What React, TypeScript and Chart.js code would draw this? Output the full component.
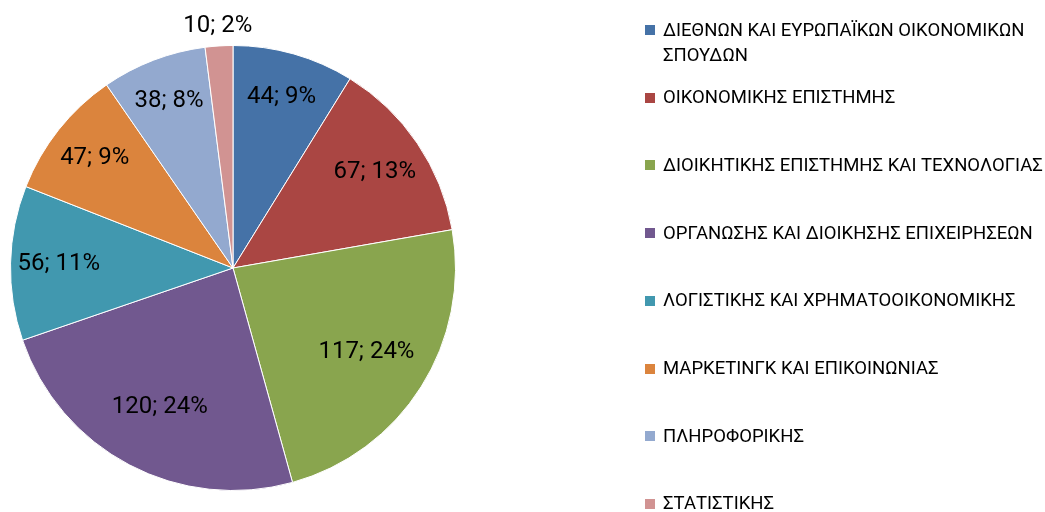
import React, { useEffect, useRef } from "react";
import { Chart, registerables } from "chart.js";

Chart.register(...registerables);

const categories: string[] = [
  "ΔΙΕΘΝΩΝ ΚΑΙ ΕΥΡΩΠΑΪΚΩΝ ΟΙΚΟΝΟΜΙΚΩΝ ΣΠΟΥΔΩΝ",
  "ΟΙΚΟΝΟΜΙΚΗΣ ΕΠΙΣΤΗΜΗΣ",
  "ΔΙΟΙΚΗΤΙΚΗΣ ΕΠΙΣΤΗΜΗΣ ΚΑΙ ΤΕΧΝΟΛΟΓΙΑΣ",
  "ΟΡΓΑΝΩΣΗΣ ΚΑΙ ΔΙΟΙΚΗΣΗΣ ΕΠΙΧΕΙΡΗΣΕΩΝ",
  "ΛΟΓΙΣΤΙΚΗΣ ΚΑΙ ΧΡΗΜΑΤΟΟΙΚΟΝΟΜΙΚΗΣ",
  "ΜΑΡΚΕΤΙΝΓΚ ΚΑΙ ΕΠΙΚΟΙΝΩΝΙΑΣ",
  "ΠΛΗΡΟΦΟΡΙΚΗΣ",
  "ΣΤΑΤΙΣΤΙΚΗΣ",
];

const values: number[] = [44, 67, 117, 120, 56, 47, 38, 10];

const colors: string[] = [
  "#4572A7",
  "#AA4643",
  "#89A54E",
  "#71588F",
  "#4198AF",
  "#DB843D",
  "#93A9CF",
  "#D19392",
];

// Largest-remainder rounding of percentages (as the spreadsheet does)
function roundedPercents(vals: number[]): number[] {
  const total = vals.reduce((a, b) => a + b, 0);
  const raw = vals.map((v) => (v / total) * 100);
  const floors = raw.map((r) => Math.floor(r));
  let remaining = 100 - floors.reduce((a, b) => a + b, 0);
  const order = raw
    .map((r, i) => ({ i, rem: r - Math.floor(r) }))
    .sort((a, b) => b.rem - a.rem);
  const out = floors.slice();
  for (let k = 0; k < order.length && remaining > 0; k++, remaining--) {
    out[order[k].i] += 1;
  }
  return out;
}

const LABEL_FONT = "Roboto, 'Noto Sans', 'Liberation Sans', sans-serif";
const LEGEND_FONT = "Roboto, 'Noto Sans', 'Liberation Sans', sans-serif";

const sliceLabels = {
  id: "sliceLabels",
  afterDatasetsDraw(chart: any) {
    const ctx = chart.ctx;
    const meta = chart.getDatasetMeta(0);
    const data = chart.data.datasets[0].data as number[];
    const pct = roundedPercents(data);
    const total = data.reduce((a, b) => a + b, 0);
    ctx.save();
    ctx.fillStyle = "#000";
    ctx.font = `24px ${LABEL_FONT}`;
    ctx.textAlign = "center";
    ctx.textBaseline = "middle";
    meta.data.forEach((arc: any, i: number) => {
      const { x, y, startAngle, endAngle, outerRadius } = arc.getProps(
        ["x", "y", "startAngle", "endAngle", "outerRadius"],
        true
      );
      const mid = (startAngle + endAngle) / 2;
      const frac = data[i] / total;
      const r =
        frac < 0.03 ? outerRadius * 1.09 : outerRadius * (0.85 - 0.6 * frac);
      const lx = x + Math.cos(mid) * r;
      const ly = y + Math.sin(mid) * r;
      ctx.fillText(`${data[i]}; ${pct[i]}%`, lx, ly);
    });
    ctx.restore();
  },
};

export default function App() {
  const ref = useRef<HTMLCanvasElement | null>(null);

  useEffect(() => {
    if (!ref.current) return;
    const chart = new Chart(ref.current, {
      type: "pie",
      data: {
        labels: categories,
        datasets: [
          {
            data: values,
            backgroundColor: colors,
            borderColor: "#ffffff",
            borderWidth: 1,
          },
        ],
      },
      options: {
        responsive: false,
        animation: false,
        layout: { padding: { left: 10, right: 589, top: 45, bottom: 21 } },
        plugins: {
          legend: { display: false },
          tooltip: { enabled: false },
        },
      },
      plugins: [sliceLabels],
    });
    return () => chart.destroy();
  }, []);

  const legendStart = 30;
  const legendStep = 67.7;

  return (
    <div
      style={{
        position: "fixed",
        left: 0,
        top: 0,
        width: 1045,
        height: 512,
        background: "#fff",
        overflow: "hidden",
      }}
    >
      <canvas ref={ref} width={1045} height={512} style={{ display: "block" }} />
      {categories.map((c, i) => (
        <div
          key={c}
          style={{
            position: "absolute",
            left: 645,
            top: legendStart + i * legendStep - 12.5,
            width: 410,
            display: "flex",
            alignItems: "flex-start",
            fontFamily: LEGEND_FONT,
            fontSize: 18.5,
            lineHeight: "25px",
            color: "#000",
            whiteSpace: "normal",
          }}
        >
          <span
            style={{
              width: 10,
              height: 10,
              background: colors[i],
              marginTop: 7.5,
              marginRight: 8,
              flex: "0 0 auto",
            }}
          />
          <span style={{ width: 388 }}>{c}</span>
        </div>
      ))}
    </div>
  );
}
